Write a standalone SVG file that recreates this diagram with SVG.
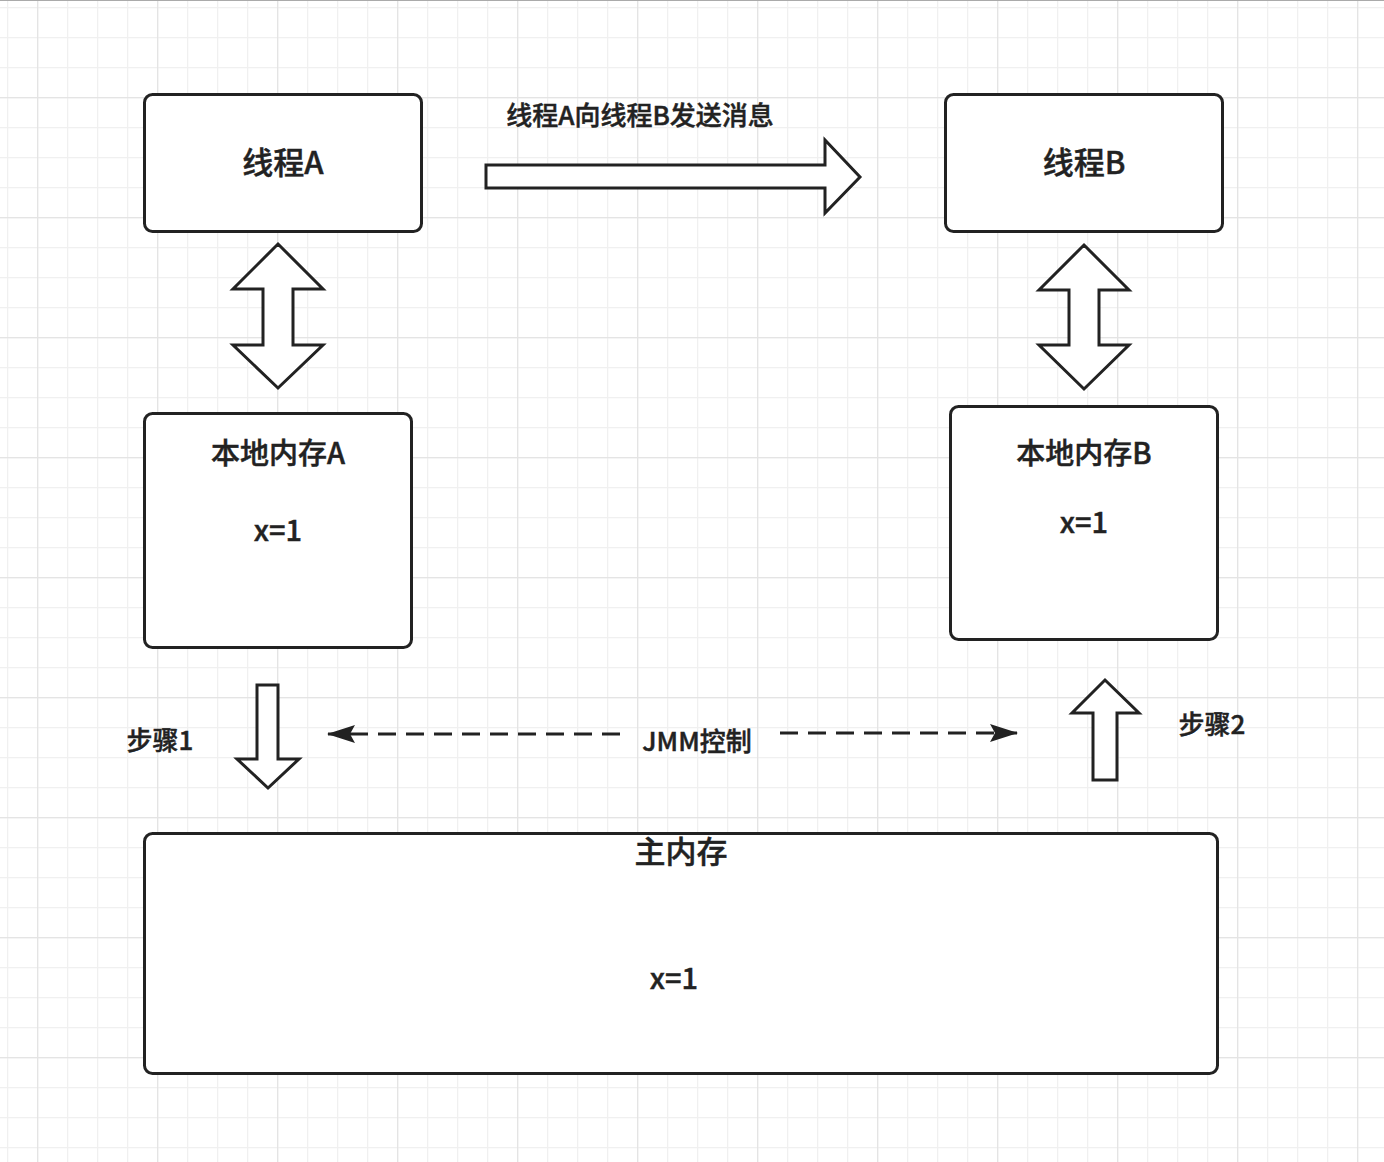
<svg xmlns="http://www.w3.org/2000/svg" width="1384" height="1162" viewBox="0 0 1384 1162">
<defs>
<pattern id="gridMinor" patternUnits="userSpaceOnUse" x="7" y="7" width="30" height="30">
<path d="M0.5 0V30M0 0.5H30" fill="none" stroke="#f0f0f0" stroke-width="1.5"/>
</pattern>
<pattern id="gridMajor" patternUnits="userSpaceOnUse" x="37" y="97" width="120" height="120">
<path d="M0.5 0V120M0 0.5H120" fill="none" stroke="#e4e4e4" stroke-width="1.5"/>
</pattern>
<marker id="tri" viewBox="0 0 28 18" refX="27" refY="9" markerWidth="28" markerHeight="18" markerUnits="userSpaceOnUse" orient="auto">
<path d="M0 0L28 9L0 18L5 9Z" fill="#222"/>
</marker>
<style>
.box{fill:#fff;stroke:#222;stroke-width:3}
.blk{fill:#fff;stroke:#222;stroke-width:3;stroke-linejoin:miter}
.t{font-family:"Noto Sans CJK SC","Noto Sans",sans-serif;fill:#222;stroke:#222;stroke-width:0.45;font-weight:500;dominant-baseline:central}
.big{font-size:29px}
.title{font-size:31px}
.sm{font-size:26px}
.dash{fill:none;stroke:#222;stroke-width:3;stroke-dasharray:18 10}
</style>
</defs>
<rect width="1384" height="1162" fill="#fff"/>
<rect width="1384" height="1162" fill="url(#gridMinor)"/>
<rect width="1384" height="1162" fill="url(#gridMajor)"/>
<line x1="0" y1="0.5" x2="1384" y2="0.5" stroke="#aaa" stroke-width="1"/>

<g id="connectors">
<path class="blk" d="M486 165H825V140L860 177L825 213V188H486Z"/>
<path class="blk" d="M278 244L323 289H293V345H323L278 388L233 345H263V289H233Z"/>
<path class="blk" d="M1084 245L1129 290H1099V345H1129L1084 389L1039 345H1069V290H1039Z"/>
<path class="blk" d="M257 685H278V759H299L268 788L237 759H257Z"/>
<path class="blk" d="M1105 680L1139 713H1117V780H1093V713H1072Z"/>
<path class="dash" d="M620 734H328" marker-end="url(#tri)"/>
<path class="dash" d="M780 733H1017" marker-end="url(#tri)"/>
<text class="t sm" x="697" y="739" text-anchor="middle">JMM控制</text>
<text class="t sm" x="640" y="113" text-anchor="middle">线程A向线程B发送消息</text>
<text class="t sm" x="160" y="738" text-anchor="middle">步骤1</text>
<text class="t sm" x="1212" y="722" text-anchor="middle">步骤2</text>
</g>

<g id="threadA">
<rect class="box" x="144.5" y="94.5" width="277" height="137" rx="8"/>
<text class="t title" x="283" y="160" text-anchor="middle">线程A</text>
</g>
<g id="threadB">
<rect class="box" x="945.5" y="94.5" width="277" height="137" rx="8"/>
<text class="t title" x="1084" y="160" text-anchor="middle">线程B</text>
</g>
<g id="localA">
<rect class="box" x="144.5" y="413.5" width="267" height="234" rx="8"/>
<text class="t big" x="278" y="451" text-anchor="middle">本地内存A</text>
<text class="t big" x="278" y="528" text-anchor="middle">x=1</text>
</g>
<g id="localB">
<rect class="box" x="950.5" y="406.5" width="267" height="233" rx="8"/>
<text class="t big" x="1084" y="451" text-anchor="middle">本地内存B</text>
<text class="t big" x="1084" y="520" text-anchor="middle">x=1</text>
</g>
<g id="mainMem">
<rect class="box" x="144.5" y="833.5" width="1073" height="240" rx="8"/>
<text class="t title" x="681" y="849" text-anchor="middle">主内存</text>
<text class="t big" x="674" y="976" text-anchor="middle">x=1</text>
</g>
</svg>
